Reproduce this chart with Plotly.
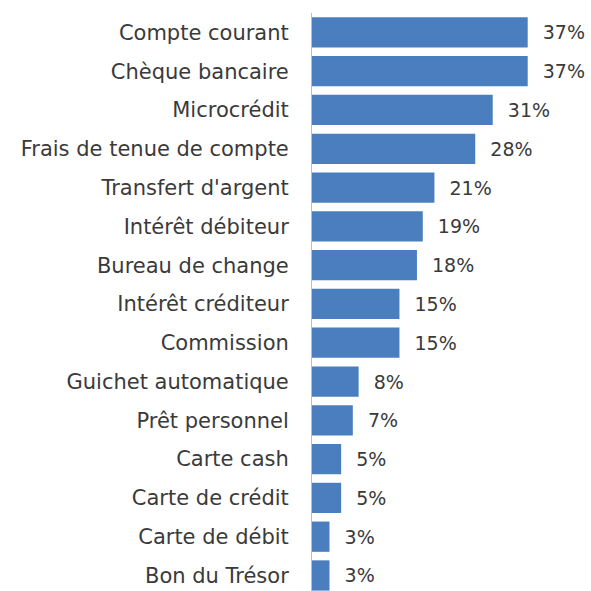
import plotly.graph_objects as go

categories = [
    "Compte courant", "Chèque bancaire", "Microcrédit", "Frais de tenue de compte",
    "Transfert d'argent", "Intérêt débiteur", "Bureau de change", "Intérêt créditeur",
    "Commission", "Guichet automatique", "Prêt personnel", "Carte cash",
    "Carte de crédit", "Carte de débit", "Bon du Trésor",
]
values = [37, 37, 31, 28, 21, 19, 18, 15, 15, 8, 7, 5, 5, 3, 3]

FONT = "DejaVu Sans"

fig = go.Figure(
    go.Bar(
        x=values,
        y=categories,
        orientation="h",
        marker=dict(color="#4a7ebf", line=dict(width=0)),
        texttemplate="  %{x}%",
        textposition="outside",
        textfont=dict(family=FONT, size=19, color="#3a3a3a"),
        cliponaxis=False,
    )
)

fig.update_layout(
    width=591,
    height=591,
    margin=dict(l=312, r=5, t=13, b=0),
    paper_bgcolor="white",
    plot_bgcolor="white",
    bargap=0.22,
    showlegend=False,
    font=dict(family=FONT, size=19, color="#3a3a3a"),
)
fig.update_xaxes(range=[0, 47], visible=False)
fig.update_yaxes(
    type="category",
    range=[14.4, -0.5],
    showline=True,
    linecolor="#bfbfbf",
    linewidth=1,
    showgrid=False,
    ticks="",
    ticklabelstandoff=18,
    tickfont=dict(family=FONT, size=21, color="#3a3a3a"),
)

fig.write_html("out.html")
